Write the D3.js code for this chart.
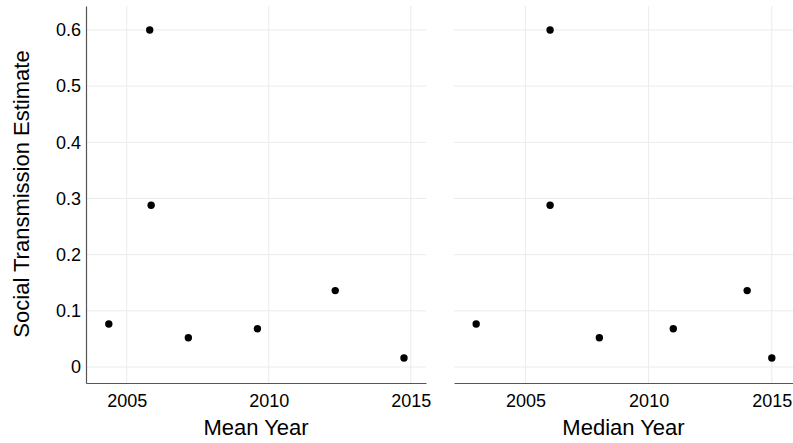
<!DOCTYPE html>
<html>
<head>
<meta charset="utf-8">
<script src="https://cdn.jsdelivr.net/npm/d3@7"></script>
<style>
  body { margin: 0; background: #fff; }
  svg { display: block; font-family: "Liberation Sans", Arial, sans-serif; }
  .grid line { stroke: #ebebeb; stroke-width: 1; }
  .tick text { fill: #000; }
</style>
</head>
<body>
<div id="graf"></div>
<script>
// datos
estimate   = [0.0765, 0.6, 0.288, 0.052, 0.068, 0.136, 0.016]
meanYear   = [2004.37, 2005.81, 2005.86, 2007.17, 2009.6, 2012.34, 2014.76]
medianYear = [2003, 2006, 2006, 2008, 2011, 2014, 2015]
xTicks = [2005, 2010, 2015]
yTicks = [0, 0.1, 0.2, 0.3, 0.4, 0.5, 0.6]
yTitle = 'Social Transmission Estimate'

ancho_total = 793
alto_total = 443

svg = d3.select('#graf').append('svg')
        .attr('width', ancho_total)
        .attr('height', alto_total)

top_ = 6
bottom = 383

y = d3.scaleLinear()
      .domain([-0.0285, 0.6427])
      .range([bottom, top_])

panels = [
  { years: meanYear,   title: 'Mean Year',   left: 86,  right: 426, domain: [2003.567, 2015.535], yaxis: true },
  { years: medianYear, title: 'Median Year', left: 454, right: 793, domain: [2002.1, 2015.86],   yaxis: false }
]

panels.forEach(p => {
  x = d3.scaleLinear().domain(p.domain).range([p.left, p.right])

  g = svg.append('g')

  // lineas de la reticula
  grid = g.append('g').attr('class', 'grid')
  grid.selectAll('line.h')
      .data(yTicks)
      .enter().append('line')
        .attr('x1', p.left).attr('x2', p.right)
        .attr('y1', d => y(d)).attr('y2', d => y(d))
  grid.selectAll('line.v')
      .data(xTicks)
      .enter().append('line')
        .attr('x1', d => x(d)).attr('x2', d => x(d))
        .attr('y1', top_).attr('y2', bottom)

  // eje X
  xAxisGroup = g.append('g')
                .attr('transform', `translate(0, ${bottom})`)
                .call(d3.axisBottom(x).tickValues(xTicks).tickFormat(d3.format('d')).tickSize(0).tickPadding(11))
  xAxisGroup.select('.domain').attr('stroke', '#555').attr('stroke-width', 1.2)
  xAxisGroup.selectAll('text').attr('font-size', '18px').attr('font-family', '"Liberation Sans", Arial, sans-serif')

  // eje Y solo en el primer panel
  if (p.yaxis) {
    yAxisGroup = g.append('g')
                  .attr('transform', `translate(${p.left}, 0)`)
                  .call(d3.axisLeft(y).tickValues(yTicks).tickFormat(d => d === 0 ? '0' : d3.format('.1f')(d)).tickSize(0).tickPadding(5))
    yAxisGroup.select('.domain').attr('stroke', '#555').attr('stroke-width', 1.2)
    yAxisGroup.selectAll('text').attr('font-size', '18px').attr('font-family', '"Liberation Sans", Arial, sans-serif')
  }

  // puntos
  g.selectAll('circle')
   .data(p.years.map((d, i) => ({ yr: d, v: estimate[i] })))
   .enter().append('circle')
     .attr('cx', d => x(d.yr))
     .attr('cy', d => y(d.v))
     .attr('r', 3.7)
     .attr('fill', '#000')

  // titulo del eje X
  g.append('text')
   .attr('x', (p.left + p.right) / 2)
   .attr('y', 434.5)
   .attr('text-anchor', 'middle')
   .attr('font-size', '22px')
   .text(p.title)
})

svg.append('text')
   .attr('transform', `translate(29, 194) rotate(-90)`)
   .attr('text-anchor', 'middle')
   .attr('font-size', '22px')
   .text(yTitle)
</script>
</body>
</html>
